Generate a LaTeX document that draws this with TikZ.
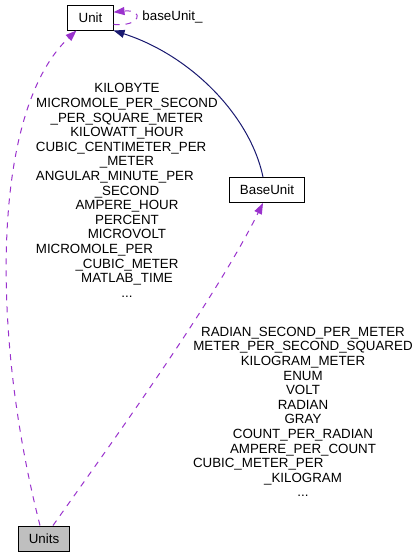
\documentclass[tikz,border=0pt]{standalone}
\usepackage{fontspec}
\setmainfont{Liberation Sans}
\usetikzlibrary{arrows.meta}
\definecolor{edgepurple}{HTML}{9A32CD}
\definecolor{edgenavy}{HTML}{191970}
\definecolor{boxgray}{HTML}{BFBFBF}
\newlength{\leftlblw}
\newlength{\rightlblw}
\newcommand{\lblfont}{\fontsize{10pt}{10.95pt}\selectfont}
\tikzset{
    classbox/.style={
        rectangle,
        draw=black,
        line width=0.75pt,
        fill=white,
        minimum height=18.75pt,
        inner xsep=8pt,
        inner ysep=0pt,
        font=\fontsize{10pt}{12pt}\selectfont
    },
    usage/.style={
        -{Triangle[length=8.25pt,width=6pt]},
        draw=edgepurple,
        line width=0.75pt,
        dash pattern=on 4.5pt off 4.5pt
    },
    inherit/.style={
        -{Triangle[length=8.25pt,width=6pt]},
        draw=edgenavy,
        line width=0.75pt
    },
    memberlist/.style={
        inner sep=0pt,
        align=center,
        font=\lblfont
    }
}

\begin{document}
\settowidth{\leftlblw}{\lblfont MICROMOLE\_PER\_SECOND}%
\settowidth{\rightlblw}{\lblfont METER\_PER\_SECOND\_SQUARED}%
\addtolength{\leftlblw}{0.5pt}%
\addtolength{\rightlblw}{0.5pt}%
\begin{tikzpicture}[x=0.75pt,y=-0.75pt]
            \useasboundingbox (0,0) rectangle (419,557);

            % Classes
            \node[classbox] (unit) at (90.5,17.5) {Unit};
            \node[classbox] (baseunit) at (267,190) {BaseUnit};
            \node[classbox, fill=boxgray] (units) at (44,538.5) {Units};

            % BaseUnit derives from Unit
            \draw[inherit] ([xshift=-3pt]baseunit.north)
                .. controls (250,115) and (190,55) .. (unit.south east);

            % Self reference of Unit
            \draw[usage] ([yshift=-5.2pt]unit.east)
                .. controls (142,27) and (144,9) .. ([yshift=4pt]unit.east);
            \node[font=\fontsize{10pt}{12pt}\selectfont, inner sep=0pt] (selflbl) at (172.5,17) {baseUnit\_};

            % Units uses Unit
            \draw[usage] ([xshift=-3pt]units.north)
                .. controls (-10,330) and (-8,110) .. ([xshift=6.75pt]unit.south west);
            \node[memberlist, text width=\leftlblw] (unitlbl) at (127,190.5)
                {KILOBYTE\\
                 MICROMOLE\_PER\_SECOND\\
                 \_PER\_SQUARE\_METER\\
                 KILOWATT\_HOUR\\
                 CUBIC\_CENTIMETER\_PER\hfill\null\\
                 \_METER\\
                 ANGULAR\_MINUTE\_PER\hfill\null\\
                 \_SECOND\\
                 AMPERE\_HOUR\\
                 PERCENT\\
                 MICROVOLT\\
                 MICROMOLE\_PER\hfill\null\\
                 \_CUBIC\_METER\\
                 MATLAB\_TIME\\
                 ...};

            % Units uses BaseUnit
            \draw[usage] ([xshift=6.75pt]units.north)
                .. controls (110,445) and (215,300) .. ([xshift=-3pt]baseunit.south);
            \node[memberlist, text width=\rightlblw] (baselbl) at (303,412)
                {RADIAN\_SECOND\_PER\_METER\\
                 METER\_PER\_SECOND\_SQUARED\\
                 KILOGRAM\_METER\\
                 ENUM\\
                 VOLT\\
                 RADIAN\\
                 GRAY\\
                 COUNT\_PER\_RADIAN\\
                 AMPERE\_PER\_COUNT\\
                 CUBIC\_METER\_PER\hfill\null\\
                 \_KILOGRAM\\
                 ...};
\end{tikzpicture}
\end{document}
